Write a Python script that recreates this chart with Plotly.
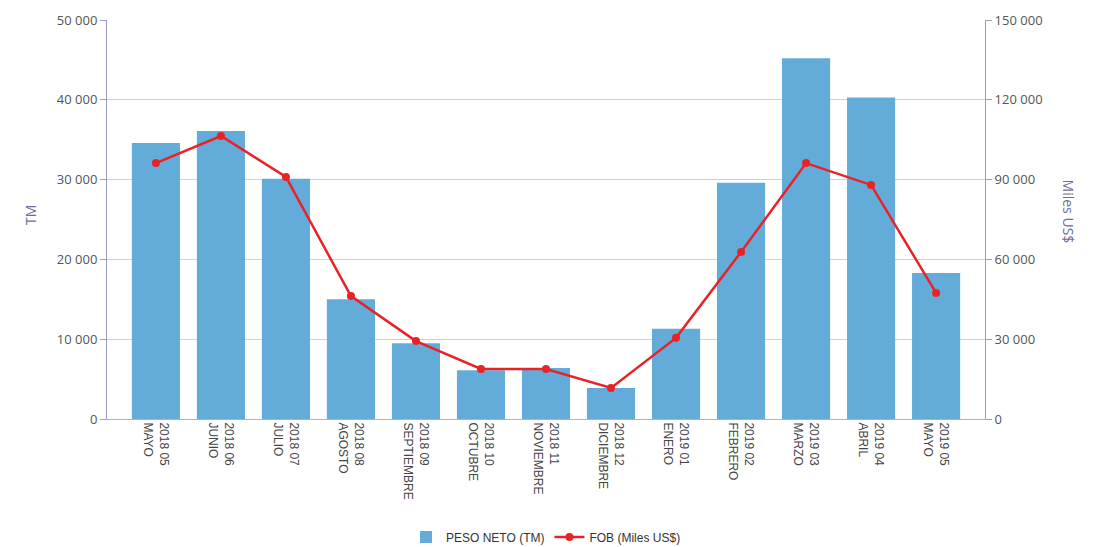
import plotly.graph_objects as go

periods = ["2018 05", "2018 06", "2018 07", "2018 08", "2018 09", "2018 10", "2018 11",
           "2018 12", "2019 01", "2019 02", "2019 03", "2019 04", "2019 05"]
months = ["MAYO", "JUNIO", "JULIO", "AGOSTO", "SEPTIEMBRE", "OCTUBRE", "NOVIEMBRE",
          "DICIEMBRE", "ENERO", "FEBRERO", "MARZO", "ABRIL", "MAYO"]
peso_neto_tm = [34600, 36100, 30100, 15000, 9500, 6100, 6400, 3900, 11300, 29600, 45200, 40300, 18300]
fob_miles_usd = [96200, 106400, 91000, 46200, 29300, 18800, 18800, 11700, 30500, 62800, 96200, 88000, 47400]

categories = [f"{p}<br>{m}" for p, m in zip(periods, months)]

tick_font = dict(family="Liberation Sans Narrow, Arial Narrow, Liberation Sans, Arial", size=12, color="#444444")
axis_font = dict(family="Open Sans, Liberation Sans, Arial", size=13, color="#555555")

fig = go.Figure()
fig.add_trace(go.Bar(
    x=categories, y=peso_neto_tm, name="PESO NETO (TM)",
    marker=dict(color="#63acd9", line=dict(width=0)),
    yaxis="y",
))
fig.add_trace(go.Scatter(
    x=categories, y=fob_miles_usd, name="FOB (Miles US$)",
    mode="lines+markers",
    line=dict(color="#ea2227", width=2.5),
    marker=dict(color="#ea2227", size=8),
    yaxis="y2",
))

fig.update_layout(
    width=1078, height=539,
    margin=dict(l=99, r=101, t=12, b=128, autoexpand=False),
    paper_bgcolor="white", plot_bgcolor="white",
    separators=", ",
    bargap=0.26,
    showlegend=True,
    legend=dict(orientation="h", x=0.5, xanchor="center", y=-0.296, yanchor="middle",
                font=dict(family="Liberation Sans Narrow, Arial Narrow, Liberation Sans, Arial", size=12, color="#333333"),
                itemwidth=30),
    xaxis=dict(
        tickangle=90, tickfont=tick_font, showgrid=False,
        showline=True, linecolor="#b0b0c8", linewidth=1,
        ticks="", fixedrange=True, automargin=False,
    ),
    yaxis=dict(
        range=[0, 50000], dtick=10000, tickformat=",d",
        tickfont=axis_font, showgrid=True, gridcolor="#cfcfe0", gridwidth=1,
        showline=True, linecolor="#9c9cc0", linewidth=1,
        ticks="outside", ticklen=6, tickcolor="#9c9cc0",
        zeroline=False, automargin=False,
    ),
    yaxis2=dict(
        range=[0, 150000], dtick=30000, tickformat=",d",
        tickfont=axis_font, overlaying="y", side="right", showgrid=False,
        showline=True, linecolor="#9c9cc0", linewidth=1,
        ticks="outside", ticklen=6, tickcolor="#9c9cc0",
        zeroline=False, automargin=False,
    ),
    annotations=[
        dict(text="TM", xref="paper", yref="paper", x=-0.101, y=0.511, showarrow=False,
             textangle=-90, font=dict(family="Open Sans, Liberation Sans, Arial", size=14, color="#6d6d9c")),
        dict(text="Miles US$", xref="paper", yref="paper", x=1.108, y=0.519, showarrow=False,
             textangle=90, font=dict(family="Open Sans, Liberation Sans, Arial", size=14, color="#6d6d9c")),
    ],
)

fig.write_html("out.html")
